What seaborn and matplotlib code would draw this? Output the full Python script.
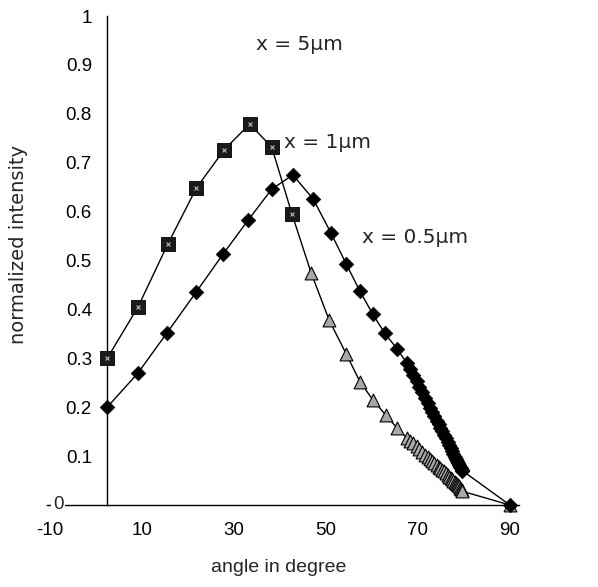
import matplotlib
matplotlib.use("Agg")
import matplotlib.pyplot as plt
import pandas as pd
import seaborn as sns

# angle in degree / normalized intensity
# x = 0.5um (diamonds), separate points before the dense band
angle_head_05 = [2.4, 9.1, 15.4, 21.8, 27.6, 33.1, 38.2, 42.8, 47.2, 51.1,
                 54.4, 57.4, 60.2, 62.8, 65.5]
int_head_05 = [0.20, 0.27, 0.352, 0.436, 0.513, 0.583, 0.646, 0.675, 0.626,
               0.556, 0.493, 0.437, 0.39, 0.351, 0.319]

# x = 1um, squares up to the peak region, then the triangle tail
angle_sq = [2.4, 9.1, 15.6, 21.8, 27.8, 33.4, 38.2, 42.6]
int_sq = [0.30, 0.405, 0.534, 0.648, 0.726, 0.779, 0.732, 0.595]
angle_head_tr = [46.8, 50.7, 54.4, 57.4, 60.2, 63.0, 65.5]
int_head_tr = [0.474, 0.378, 0.309, 0.252, 0.215, 0.184, 0.157]

# dense band of markers shared by both curves, then the last point at 90
angle_band = [67.6, 68.3, 69.0, 69.7, 70.3, 70.9, 71.5, 72.1, 72.6, 73.1, 73.6,
              74.1, 74.5, 74.9, 75.3, 75.7, 76.1, 76.5, 76.8, 77.1, 77.4, 77.7,
              78.0, 78.3, 78.6, 78.8, 79.0, 79.2, 79.4, 79.6, 79.7, 90]
int_band_05 = [0.290, 0.278, 0.266, 0.253, 0.242, 0.231, 0.219, 0.208, 0.199,
               0.190, 0.181, 0.172, 0.165, 0.158, 0.151, 0.143, 0.136, 0.128,
               0.122, 0.117, 0.111, 0.105, 0.099, 0.094, 0.089, 0.085, 0.081,
               0.078, 0.075, 0.072, 0.070, 0.0]
int_band_1 = [0.137, 0.131, 0.126, 0.120, 0.114, 0.108, 0.103, 0.098, 0.094,
              0.090, 0.086, 0.082, 0.078, 0.075, 0.072, 0.069, 0.065, 0.061,
              0.058, 0.056, 0.053, 0.050, 0.047, 0.044, 0.042, 0.040, 0.038,
              0.035, 0.033, 0.030, 0.028, 0.0]

x_ticks = [-10, 10, 30, 50, 70, 90]
y_ticks = [0, 0.1, 0.2, 0.3, 0.4, 0.5, 0.6, 0.7, 0.8, 0.9, 1]
y_ticklabels = ["", "0.1", "0.2", "0.3", "0.4", "0.5", "0.6", "0.7", "0.8", "0.9", "1"]
y_axis_at = 2.4

sns.set_theme(style="white")
plt.rcParams["font.family"] = ["Liberation Sans", "DejaVu Sans"]
FS = 13.5
WIDE = ["DejaVu Sans"]

df_05 = pd.DataFrame({"angle": angle_head_05 + angle_band,
                      "intensity": int_head_05 + int_band_05})
df_1 = pd.DataFrame({"angle": angle_sq + angle_head_tr + angle_band,
                     "intensity": int_sq + int_head_tr + int_band_1})
df_sq = pd.DataFrame({"angle": angle_sq, "intensity": int_sq})
df_tr = pd.DataFrame({"angle": angle_head_tr + angle_band,
                      "intensity": int_head_tr + int_band_1})

fig = plt.figure(figsize=(5.98, 5.87), dpi=100)
ax = fig.add_axes([0.0786, 0.1397, 0.7893, 0.8330])

sns.lineplot(data=df_1, x="angle", y="intensity", sort=False, estimator=None,
             color="black", linewidth=1.0, ax=ax)
sns.lineplot(data=df_05, x="angle", y="intensity", sort=False, estimator=None,
             color="black", linewidth=1.0, ax=ax)

sns.scatterplot(data=df_tr, x="angle", y="intensity", marker="^", s=85,
                color="#a8a8a8", edgecolor="black", linewidth=0.8, ax=ax,
                clip_on=False, zorder=3)
sns.scatterplot(data=df_sq, x="angle", y="intensity", marker="s", s=95,
                color="#1a1a1a", edgecolor="black", linewidth=0.6, ax=ax,
                clip_on=False, zorder=4)
sns.scatterplot(data=df_sq, x="angle", y="intensity", marker="x", s=8,
                color="#bbbbbb", linewidth=0.8, ax=ax, zorder=5)
sns.scatterplot(data=df_05, x="angle", y="intensity", marker="D", s=55,
                color="black", edgecolor="black", linewidth=0.5, ax=ax,
                clip_on=False, zorder=4)

ax.set_xlim(-10.7, 92)
ax.set_ylim(0, 1)
ax.spines["left"].set_position(("data", y_axis_at))
ax.spines["right"].set_visible(False)
ax.spines["top"].set_visible(False)
for s in ("left", "bottom"):
    ax.spines[s].set_color("black")
    ax.spines[s].set_linewidth(1.0)

ax.set_xticks(x_ticks)
ax.set_xticklabels([str(t) for t in x_ticks], fontsize=FS)
ax.set_yticks(y_ticks)
ax.set_yticklabels(y_ticklabels, fontsize=FS)
ax.tick_params(axis="both", direction="inout", length=8, width=1, colors="black")
ax.tick_params(axis="x", pad=8)
ax.tick_params(axis="y", pad=7)

# the zero label sits on the x axis, left of the y axis
ax.text(-8.3, 0, "0", fontsize=FS, ha="center", va="center",
        bbox=dict(facecolor="white", edgecolor="none", pad=1))

ax.set_xlabel("angle in degree", fontsize=14)
ax.set_ylabel("normalized intensity", fontsize=14, family=WIDE)
ax.yaxis.label.set_verticalalignment("center")
ax.yaxis.set_label_coords(-0.061, 0.532)
ax.xaxis.set_label_coords(0.49, -0.11)

ax.text(44.3, 0.941, "x = 5\u03bcm", fontsize=14.5, family=WIDE,
        ha="center", va="center")
ax.text(50.3, 0.742, "x = 1\u03bcm", fontsize=14.5, family=WIDE,
        ha="center", va="center")
ax.text(69.3, 0.548, "x = 0.5\u03bcm", fontsize=14.5, family=WIDE,
        ha="center", va="center")

fig.savefig("out.png", dpi=100)
